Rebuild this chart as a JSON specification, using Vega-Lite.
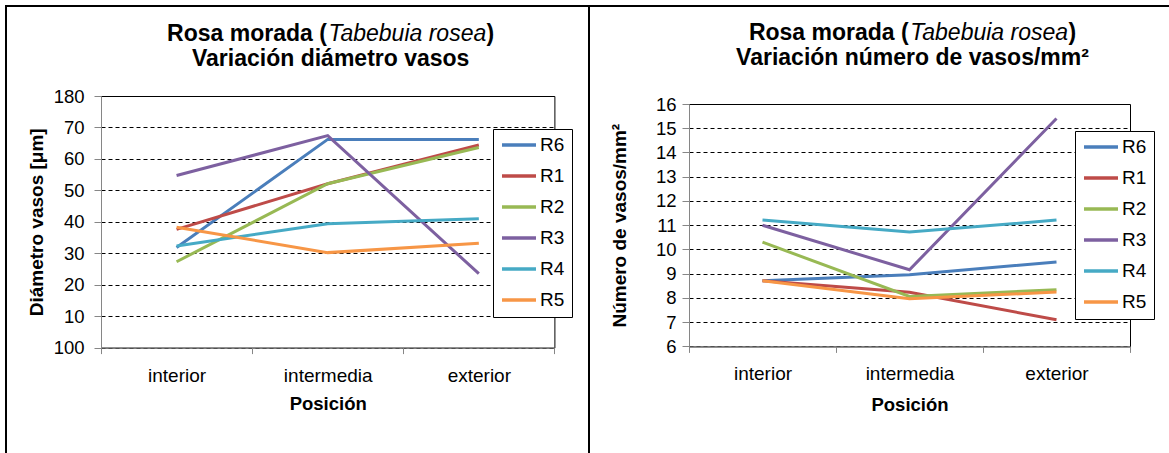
{
  "$schema": "https://vega.github.io/schema/vega-lite/v6.json",
  "padding": {"left": 5, "top": 5, "right": 0, "bottom": 0},
  "background": "white",
  "spacing": 0,
  "config": {
    "font": "Liberation Sans",
    "view": {"stroke": "black", "strokeWidth": 1},
    "axis": {
      "labelColor": "black",
      "labelFontSize": 18.5,
      "titleColor": "black",
      "titleFontWeight": "bold",
      "domainColor": "#868686",
      "tickColor": "#868686",
      "tickSize": 7
    },
    "axisX": {"labelFontSize": 19},
    "legend": {
      "orient": "none",
      "title": null,
      "strokeColor": "black",
      "fillColor": "white",
      "padding": 7,
      "rowPadding": 12,
      "clipHeight": 18,
      "labelFontSize": 19,
      "labelColor": "black",
      "labelOffset": 2,
      "symbolType": "stroke",
      "symbolSize": 1156,
      "symbolStrokeWidth": 3.5
    },
    "title": {
      "anchor": "middle",
      "frame": "group",
      "fontSize": 23,
      "fontWeight": "bold",
      "lineHeight": 25,
      "color": "black",
      "subtitleFontSize": 23,
      "subtitleFontStyle": "italic",
      "subtitleFontWeight": "normal",
      "subtitleColor": "black",
      "subtitlePadding": -48
    }
  },
  "vconcat": [
    {"width": 1170, "height": 2, "mark": "rect", "data": {"values": []}, "view": {"fill": "black", "stroke": null}},
    {
      "hconcat": [
        {"width": 2, "height": 460, "mark": "rect", "data": {"values": []}, "view": {"fill": "black", "stroke": null}},
        {"width": 18.6, "height": 1, "mark": "rect", "data": {"values": []}, "view": {"fill": "white", "stroke": null}},
        {
          "vconcat": [
            {"width": 1, "height": 15, "mark": "rect", "data": {"values": []}, "view": {"fill": "white", "stroke": null}},
            {
              "width": 453.4,
              "height": 251.6,
              "title": {
                "text": ["Rosa morada (\u00a0\u00a0\u00a0\u00a0\u00a0\u00a0\u00a0\u00a0\u00a0\u00a0\u00a0\u00a0\u00a0\u00a0\u00a0\u00a0\u00a0\u00a0\u00a0\u00a0\u00a0\u00a0\u00a0\u00a0\u00a0)", "Variación diámetro vasos"],
                "subtitle": "\u200b\u00a0\u00a0\u00a0\u00a0\u00a0\u00a0\u00a0\u00a0\u00a0\u00a0\u00a0\u00a0\u00a0\u00a0\u00a0\u00a0\u00a0\u00a0\u00a0\u00a0\u00a0\u00a0\u00a0\u00a0Tabebuia rosea",
                "dx": 3,
                "offset": 15.9
              },
              "data": {
                "values": [
                  {"serie": "R6", "posicion": "interior", "diametro": 31.8},
                  {"serie": "R6", "posicion": "intermedia", "diametro": 66.2},
                  {"serie": "R6", "posicion": "exterior", "diametro": 66.2},
                  {"serie": "R1", "posicion": "interior", "diametro": 37.6},
                  {"serie": "R1", "posicion": "intermedia", "diametro": 52.1},
                  {"serie": "R1", "posicion": "exterior", "diametro": 64.4},
                  {"serie": "R2", "posicion": "interior", "diametro": 27.3},
                  {"serie": "R2", "posicion": "intermedia", "diametro": 52.1},
                  {"serie": "R2", "posicion": "exterior", "diametro": 63.6},
                  {"serie": "R3", "posicion": "interior", "diametro": 54.7},
                  {"serie": "R3", "posicion": "intermedia", "diametro": 67.4},
                  {"serie": "R3", "posicion": "exterior", "diametro": 23.5},
                  {"serie": "R4", "posicion": "interior", "diametro": 32.3},
                  {"serie": "R4", "posicion": "intermedia", "diametro": 39.4},
                  {"serie": "R4", "posicion": "exterior", "diametro": 41.0},
                  {"serie": "R5", "posicion": "interior", "diametro": 38.3},
                  {"serie": "R5", "posicion": "intermedia", "diametro": 30.2},
                  {"serie": "R5", "posicion": "exterior", "diametro": 33.2}
                ]
              },
              "mark": {"type": "line", "strokeWidth": 3},
              "encoding": {
                "x": {
                  "field": "posicion",
                  "type": "ordinal",
                  "sort": ["interior", "intermedia", "exterior"],
                  "bandPosition": 0.5,
                  "scale": {"type": "band", "paddingInner": 0, "paddingOuter": 0},
                  "axis": {
                    "title": "Posición",
                    "titleFontSize": 18.5,
                    "titleY": 47.3,
                    "labelAngle": 0,
                    "labelPadding": 12.5,
                    "tickBand": "extent",
                    "tickSize": 6,
                    "grid": false
                  }
                },
                "y": {
                  "field": "diametro",
                  "type": "quantitative",
                  "scale": {"domain": [0, 80], "nice": false, "zero": false},
                  "axis": {
                    "title": "Diámetro vasos [μm]",
                    "titleFontSize": 19,
                    "titlePadding": 7,
                    "values": [0, 10, 20, 30, 40, 50, 60, 70, 80],
                    "labelExpr": "datum.value == 80 ? '180' : datum.value == 0 ? '100' : datum.label",
                    "labelPadding": 10,
                    "grid": true,
                    "gridColor": "black",
                    "gridDash": [4, 3],
                    "gridWidth": 1
                  }
                },
                "color": {
                  "field": "serie",
                  "type": "nominal",
                  "scale": {
                    "domain": ["R6", "R1", "R2", "R3", "R4", "R5"],
                    "range": ["#4A7EBB", "#BE4B48", "#98B954", "#7D60A0", "#46AAC5", "#F79646"]
                  },
                  "legend": {"legendX": 392, "legendY": 33}
                }
              }
            }
          ],
          "spacing": 0,
          "resolve": {"scale": {"color": "independent"}, "legend": {"color": "independent"}}
        },
        {"width": 15, "height": 1, "mark": "rect", "data": {"values": []}, "view": {"fill": "white", "stroke": null}},
        {"width": 2, "height": 460, "mark": "rect", "data": {"values": []}, "view": {"fill": "black", "stroke": null}},
        {"width": 18.4, "height": 1, "mark": "rect", "data": {"values": []}, "view": {"fill": "white", "stroke": null}},
        {
          "vconcat": [
            {"width": 1, "height": 14, "mark": "rect", "data": {"values": []}, "view": {"fill": "white", "stroke": null}},
            {
              "width": 441,
              "height": 242.4,
              "title": {
                "text": ["Rosa morada (\u00a0\u00a0\u00a0\u00a0\u00a0\u00a0\u00a0\u00a0\u00a0\u00a0\u00a0\u00a0\u00a0\u00a0\u00a0\u00a0\u00a0\u00a0\u00a0\u00a0\u00a0\u00a0\u00a0\u00a0\u00a0)", "Variación número de vasos/mm²"],
                "subtitle": "\u200b\u00a0\u00a0\u00a0\u00a0\u00a0\u00a0\u00a0\u00a0\u00a0\u00a0\u00a0\u00a0\u00a0\u00a0\u00a0\u00a0\u00a0\u00a0\u00a0\u00a0\u00a0\u00a0\u00a0\u00a0Tabebuia rosea",
                "dx": 3,
                "offset": 25.1
              },
              "data": {
                "values": [
                  {"serie": "R6", "posicion": "interior", "vasos": 8.71},
                  {"serie": "R6", "posicion": "intermedia", "vasos": 8.96},
                  {"serie": "R6", "posicion": "exterior", "vasos": 9.48},
                  {"serie": "R1", "posicion": "interior", "vasos": 8.71},
                  {"serie": "R1", "posicion": "intermedia", "vasos": 8.23},
                  {"serie": "R1", "posicion": "exterior", "vasos": 7.1},
                  {"serie": "R2", "posicion": "interior", "vasos": 10.3},
                  {"serie": "R2", "posicion": "intermedia", "vasos": 8.06},
                  {"serie": "R2", "posicion": "exterior", "vasos": 8.34},
                  {"serie": "R3", "posicion": "interior", "vasos": 11.0},
                  {"serie": "R3", "posicion": "intermedia", "vasos": 9.16},
                  {"serie": "R3", "posicion": "exterior", "vasos": 15.4},
                  {"serie": "R4", "posicion": "interior", "vasos": 11.21},
                  {"serie": "R4", "posicion": "intermedia", "vasos": 10.72},
                  {"serie": "R4", "posicion": "exterior", "vasos": 11.21},
                  {"serie": "R5", "posicion": "interior", "vasos": 8.71},
                  {"serie": "R5", "posicion": "intermedia", "vasos": 7.97},
                  {"serie": "R5", "posicion": "exterior", "vasos": 8.24}
                ]
              },
              "mark": {"type": "line", "strokeWidth": 3},
              "encoding": {
                "x": {
                  "field": "posicion",
                  "type": "ordinal",
                  "sort": ["interior", "intermedia", "exterior"],
                  "bandPosition": 0.5,
                  "scale": {"type": "band", "paddingInner": 0, "paddingOuter": 0},
                  "axis": {
                    "title": "Posición",
                    "titleFontSize": 18.5,
                    "titleY": 48.9,
                    "labelAngle": 0,
                    "labelPadding": 12.5,
                    "tickBand": "extent",
                    "tickSize": 6,
                    "grid": false
                  }
                },
                "y": {
                  "field": "vasos",
                  "type": "quantitative",
                  "scale": {"domain": [6, 16], "nice": false, "zero": false},
                  "axis": {
                    "title": "Número de vasos/mm²",
                    "titleFontSize": 19,
                    "titlePadding": 26,
                    "values": [6, 7, 8, 9, 10, 11, 12, 13, 14, 15, 16],
                    "labelPadding": 6,
                    "grid": true,
                    "gridColor": "black",
                    "gridDash": [4, 3],
                    "gridWidth": 1
                  }
                },
                "color": {
                  "field": "serie",
                  "type": "nominal",
                  "scale": {
                    "domain": ["R6", "R1", "R2", "R3", "R4", "R5"],
                    "range": ["#4A7EBB", "#BE4B48", "#98B954", "#7D60A0", "#46AAC5", "#F79646"]
                  },
                  "legend": {"legendX": 386, "legendY": 27}
                }
              }
            }
          ],
          "spacing": 0,
          "resolve": {"scale": {"color": "independent"}, "legend": {"color": "independent"}}
        }
      ],
      "spacing": 0,
      "align": "none",
      "resolve": {"scale": {"color": "independent"}, "legend": {"color": "independent"}}
    }
  ]
}
